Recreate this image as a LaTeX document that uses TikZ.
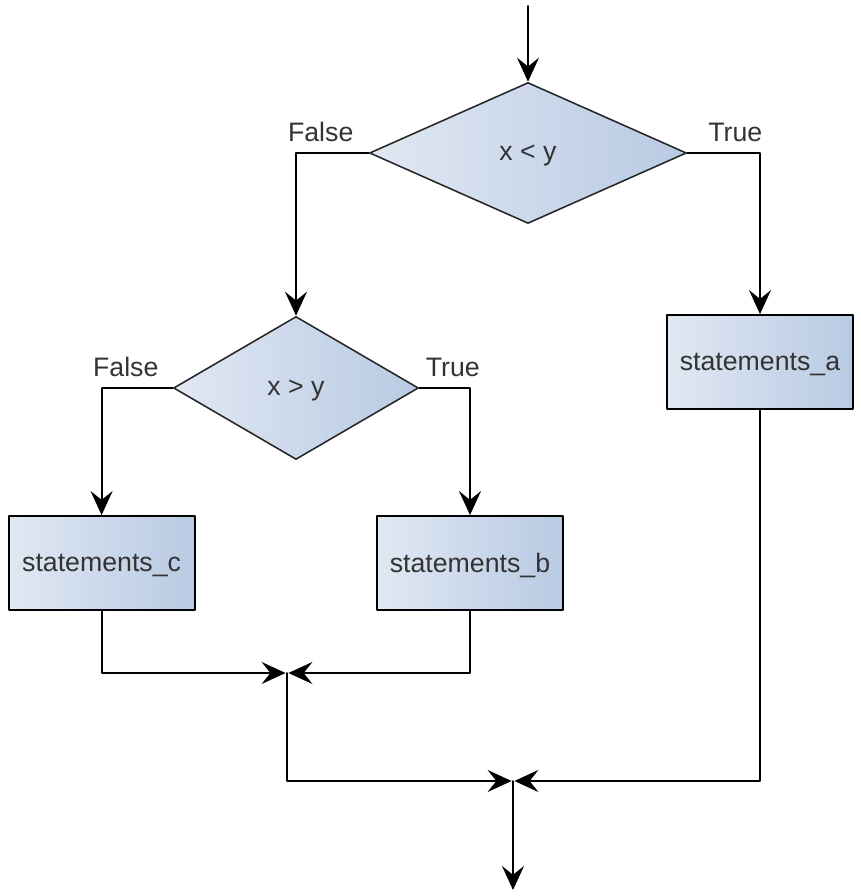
\documentclass[tikz,border=0pt]{standalone}
\usepackage{fontspec}
\setmainfont{Liberation Sans}
\usetikzlibrary{arrows.meta}
\usetikzlibrary{shapes.geometric}
\definecolor{boxlight}{HTML}{E1E8F3}
\definecolor{boxdark}{HTML}{B8CAE3}
\tikzset{
  cond/.style={diamond,draw=black!85,line width=1.1pt,left color=boxlight,right color=boxdark,inner sep=0pt,text depth=0pt,text=black!80},
  stmt/.style={rectangle,draw=black,line width=1.3pt,left color=boxlight,right color=boxdark,minimum width=4.65cm,minimum height=2.35cm,text depth=0pt,text=black!80},
  lbl/.style={above=4pt,pos=0.33,text=black!80}
}
\begin{document}
\begin{tikzpicture}[line cap=round,line join=round,>={Stealth[length=0.6cm,width=0.55cm,inset=0.22cm]},x=1.0cm,y=1.0cm,font=\fontsize{19}{23}\selectfont,line width=1.3pt]
        \useasboundingbox (0,0) rectangle (21.5,22.4);
        % decisions
        \node[cond,minimum width=7.925cm,minimum height=3.525cm] (ltest) at (13.2,18.575) {x < y};
        \node[cond,minimum width=6.125cm,minimum height=3.575cm] (gtest) at (7.4,12.7) {x > y};
        % statements
        \node[stmt] (sta) at (19.0,13.35) {statements\_a};
        \node[stmt] (stb) at (11.75,8.325) {statements\_b};
        \node[stmt] (stc) at (2.54,8.325) {statements\_c};
        % entry, joins and exit
        \coordinate (start) at (13.2,22.25);
        \coordinate (join1) at (7.175,5.575);
        \coordinate (join2) at (12.825,2.875);
        \coordinate (stop) at (12.825,0.15);
        \draw[->] (start) -- (ltest.north);
        \draw[->] (ltest.west) -| node[lbl] {False} (gtest.north);
        \draw[->] (ltest.east) -| node[lbl] {True} (sta.north);
        \draw[->] (gtest.west) -| node[lbl] {False} (stc.north);
        \draw[->] (gtest.east) -| node[lbl] {True} (stb.north);
        \draw[->,shorten >=1pt] (stc.south) |- (join1);
        \draw[->,shorten >=1pt] (stb.south) |- (join1);
        \draw[->,shorten >=1pt] (join1) |- (join2);
        \draw[->,shorten >=1pt] (sta.south) |- (join2);
        \draw[->] (join2) -- (stop);
      \end{tikzpicture}
\end{document}
